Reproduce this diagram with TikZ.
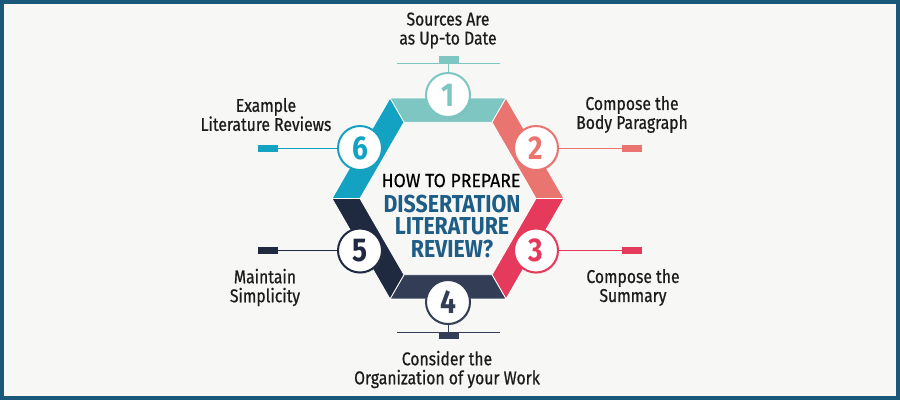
\documentclass[tikz,border=0pt]{standalone}
\usepackage{fontspec}
\setmainfont{Fira Sans}
\newfontfamily\labfont{Fira Sans}[FakeStretch=0.85,FakeBold=0.7]
\newfontfamily\numfont{Fira Sans}[FakeStretch=0.85]
\newfontfamily\ttlfont{Fira Sans}[FakeStretch=0.93,FakeBold=0.5]
\newfontfamily\ttlbfont{Fira Sans}[FakeStretch=0.87]
\usetikzlibrary{shadows}
\definecolor{cone}{HTML}{7DC6C2}
\definecolor{ctwo}{HTML}{EA746F}
\definecolor{cthree}{HTML}{E63A5C}
\definecolor{cfour}{HTML}{343D56}
\definecolor{cfive}{HTML}{1F2A40}
\definecolor{csix}{HTML}{14A2C3}
\definecolor{ttlblue}{HTML}{1D5D86}
\definecolor{framec}{HTML}{195878}
\definecolor{bgc}{HTML}{F7F7F5}
\definecolor{txtc}{HTML}{1C1C1C}
\begin{document}
\begin{tikzpicture}[x=1pt,y=-1pt,
  numcirc/.style={circle, minimum size=44pt, inner sep=0pt, fill=white, draw=#1, text=#1, line width=2pt,
     drop shadow={opacity=0.18, shadow xshift=1pt, shadow yshift=-1.5pt},
     font=\numfont\bfseries\fontsize{33}{33}\selectfont},
  tabrect/.style={rectangle, minimum width=20pt, minimum height=7pt, inner sep=0pt, fill=#1},
  conn/.style={draw=#1, line width=1pt},
  lab/.style={align=center, inner sep=0pt, text=txtc, font=\labfont\fontsize{18.5}{19}\selectfont},
  seg/.style={fill=#1, draw=white, line width=0.8pt, line join=miter},
  ttlb/.style={inner sep=0pt, text=ttlblue, font=\ttlbfont\bfseries\fontsize{24.5}{24.5}\selectfont}
]
\useasboundingbox (0,0) rectangle (900,400);
\fill[bgc] (0,0) rectangle (900,400);
\draw[framec, line width=4pt] (2,2) rectangle (898,398);

% hexagon ring segments
\begin{scope}[shift={(448,198.5)}]
  \path[seg=cone]   (240:116) -- (300:116) -- (300:88) -- (240:88) -- cycle;
  \path[seg=ctwo]   (300:116) -- (360:116) -- (360:88) -- (300:88) -- cycle;
  \path[seg=cthree] (0:116) -- (60:116) -- (60:88) -- (0:88) -- cycle;
  \path[seg=cfour]  (60:116) -- (120:116) -- (120:88) -- (60:88) -- cycle;
  \path[seg=cfive]  (120:116) -- (180:116) -- (180:88) -- (120:88) -- cycle;
  \path[seg=csix]   (180:116) -- (240:116) -- (240:88) -- (180:88) -- cycle;
\end{scope}

% title
\node[inner sep=0pt, text=black, font=\ttlfont\fontsize{19}{19}\selectfont] (t1) at (451,180.5) {HOW TO PREPARE};
\node[ttlb] (t2) at (452,204) {DISSERTATION};
\node[ttlb] (t3) at (452,226.5) {LITERATURE};
\node[ttlb] (t4) at (452,249.5) {REVIEW?};

% tabs and line ends
\node[tabrect=cone] (r1) at (449,59.5) {};
\coordinate (h1a) at (397,63);
\coordinate (h1b) at (500,63);
\node[tabrect=cfour] (r4) at (449,335.5) {};
\coordinate (h4a) at (397,332);
\coordinate (h4b) at (500,332);
\node[tabrect=csix] (r6) at (267.5,148) {};
\node[tabrect=ctwo] (r2) at (632,148) {};
\node[tabrect=cfive] (r5) at (267.5,250.5) {};
\node[tabrect=cthree] (r3) at (632,250.5) {};

% connectors
\draw[conn=cone] (h1a) -- (h1b);
\draw[conn=cfour] (h4a) -- (h4b);

% circles
\node[numcirc=cone] (c1) at (448,95) {1};
\node[numcirc=ctwo] (c2) at (536,148) {2};
\node[numcirc=cthree] (c3) at (536,250.5) {3};
\node[numcirc=cfour] (c4) at (448,302) {4};
\node[numcirc=cfive] (c5) at (360,250.5) {5};
\node[numcirc=csix] (c6) at (360,148) {6};

\draw[conn=cone] (c1.north) -- (c1.north |- h1a);
\draw[conn=cfour] (c4.south) -- (c4.south |- h4a);
\draw[conn=csix] (c6.west) -- (r6.east);
\draw[conn=ctwo] (c2.east) -- (r2.west);
\draw[conn=cfive] (c5.west) -- (r5.east);
\draw[conn=cthree] (c3.east) -- (r3.west);

% labels
\node[lab] (l1) at (448,30.5) {Sources Are\\as Up-to Date};
\node[lab] (l6) at (266,114.5) {Example\\Literature Reviews};
\node[lab] (l2) at (632,114.5) {Compose the\\Body Paragraph};
\node[lab] (l5) at (265,287.5) {Maintain\\Simplicity};
\node[lab] (l3) at (633,287.5) {Compose the\\Summary};
\node[lab] (l4) at (447,369.5) {Consider the\\Organization of your Work};
\end{tikzpicture}
\end{document}
